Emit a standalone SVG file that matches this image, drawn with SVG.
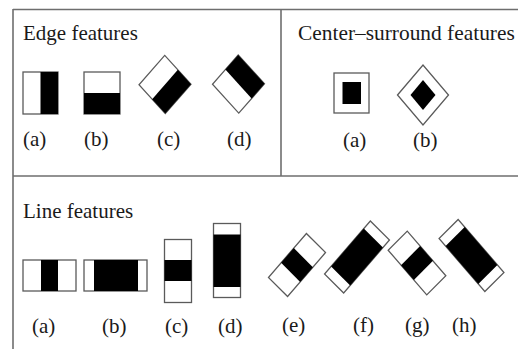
<svg xmlns="http://www.w3.org/2000/svg" width="518" height="349" viewBox="0 0 518 349">
<style>
  .frame { stroke: #6e6e6e; stroke-width: 1.6; fill: none; }
  .box { fill: #fff; stroke: #5a5a5a; stroke-width: 1.3; }
  .blk { fill: #000; }
  .title { font-family: "Liberation Serif", "Times New Roman", serif; font-size: 21px; fill: #1a1a1a; }
  .lbl { font-family: "Liberation Serif", "Times New Roman", serif; font-size: 21px; fill: #1a1a1a; }
</style>
<rect width="518" height="349" fill="#fff"/>
<g id="frame">
  <line class="frame" x1="13" y1="9.5" x2="518" y2="9.5"/>
  <line class="frame" x1="13" y1="9" x2="13" y2="349"/>
  <line class="frame" x1="281" y1="9" x2="281" y2="176"/>
  <line class="frame" x1="13" y1="176" x2="518" y2="176"/>
</g>
<g id="edge-features">
  <text class="title" x="23" y="40">Edge features</text>
  <g id="edge-a">
    <rect class="box" x="23" y="72" width="35" height="42"/>
    <rect class="blk" x="40.5" y="72" width="17.5" height="42"/>
    <text class="lbl" x="23" y="146">(a)</text>
  </g>
  <g id="edge-b">
    <rect class="box" x="84" y="72" width="36" height="42"/>
    <rect class="blk" x="84" y="93" width="36" height="21"/>
    <text class="lbl" x="84" y="146">(b)</text>
  </g>
  <g id="edge-c">
    <g transform="matrix(0.659 -0.752 0.673 0.741 165 84.5)">
      <rect class="box" x="-19.5" y="-19.5" width="39" height="39"/>
      <rect class="blk" x="-19.5" y="0" width="39" height="19.5"/>
    </g>
    <text class="lbl" x="157" y="146">(c)</text>
  </g>
  <g id="edge-d">
    <g transform="matrix(0.659 -0.752 0.673 0.741 238.5 84)">
      <rect class="box" x="-19.5" y="-19.5" width="39" height="39"/>
      <rect class="blk" x="0" y="-19.5" width="19.5" height="39"/>
    </g>
    <text class="lbl" x="227" y="146">(d)</text>
  </g>
</g>
<g id="center-surround-features">
  <text class="title" x="298" y="40" style="font-size:21.4px">Center–surround features</text>
  <g id="cs-a">
    <rect class="box" x="334" y="73" width="35" height="40"/>
    <rect class="blk" x="342.5" y="82" width="18.5" height="22"/>
    <text class="lbl" x="343" y="147">(a)</text>
  </g>
  <g id="cs-b">
    <polygon class="box" points="397.5,95 423,65 448.5,95 423,125"/>
    <polygon class="blk" points="410.5,95 423,80 435.5,95 423,110"/>
    <text class="lbl" x="413" y="147">(b)</text>
  </g>
</g>
<g id="line-features">
  <text class="title" x="23" y="218">Line features</text>
  <g id="line-a">
    <rect class="box" x="23" y="260" width="53" height="31"/>
    <rect class="blk" x="41" y="260" width="17" height="31"/>
    <text class="lbl" x="32" y="333">(a)</text>
  </g>
  <g id="line-b">
    <rect class="box" x="84" y="260" width="63" height="31"/>
    <rect class="blk" x="94" y="260" width="44" height="31"/>
    <text class="lbl" x="102" y="333">(b)</text>
  </g>
  <g id="line-c">
    <rect class="box" x="164.5" y="239.5" width="27" height="63"/>
    <rect class="blk" x="164.5" y="260" width="27" height="21"/>
    <text class="lbl" x="165" y="333">(c)</text>
  </g>
  <g id="line-d">
    <rect class="box" x="213.5" y="223.5" width="27" height="74"/>
    <rect class="blk" x="213.5" y="234.5" width="27" height="52.5"/>
    <text class="lbl" x="218" y="333">(d)</text>
  </g>
  <g id="line-e">
    <g transform="matrix(0.654 -0.757 0.707 0.707 297 265)">
      <rect class="box" x="-29" y="-13.5" width="58" height="27"/>
      <rect class="blk" x="-9.7" y="-13.5" width="19.4" height="27"/>
    </g>
    <text class="lbl" x="282" y="332">(e)</text>
  </g>
  <g id="line-f">
    <g transform="matrix(0.654 -0.757 0.707 0.707 357 257)">
      <rect class="box" x="-35" y="-13.5" width="70" height="27"/>
      <rect class="blk" x="-25" y="-13.5" width="50" height="27"/>
    </g>
    <text class="lbl" x="353" y="332">(f)</text>
  </g>
  <g id="line-g">
    <g transform="matrix(0.654 0.757 0.707 -0.707 417 263)">
      <rect class="box" x="-29.5" y="-13.5" width="59" height="27"/>
      <rect class="blk" x="-9.8" y="-13.5" width="19.6" height="27"/>
    </g>
    <text class="lbl" x="405" y="332">(g)</text>
  </g>
  <g id="line-h">
    <g transform="matrix(0.654 0.757 0.707 -0.707 471.5 255.5)">
      <rect class="box" x="-35" y="-13.5" width="70" height="27"/>
      <rect class="blk" x="-25" y="-13.5" width="50" height="27"/>
    </g>
    <text class="lbl" x="452" y="332">(h)</text>
  </g>
</g>
</svg>
